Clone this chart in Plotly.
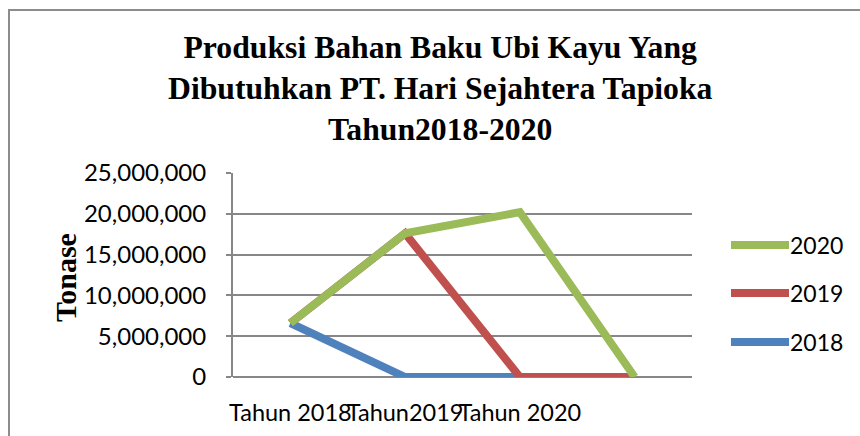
import plotly.graph_objects as go

W, H = 860, 436

categories = ["Tahun 2018", "Tahun2019", "Tahun 2020", ""]
series_names = ["2018", "2019", "2020"]
values_2018 = [6600000, 0, 0, 0]
values_2019 = [6600000, 17600000, 0, 0]
values_2020 = [6600000, 17600000, 20200000, 0]
series_values = [values_2018, values_2019, values_2020]
series_colors = ["#4F81BD", "#C0504D", "#9BBB59"]
y_ticks = [0, 5000000, 10000000, 15000000, 20000000, 25000000]

title_text = "Produksi Bahan Baku Ubi Kayu Yang<br>Dibutuhkan PT. Hari Sejahtera Tapioka<br>Tahun2018-2020"
y_title = "Tonase"

def px(x):
    return x / W

def py(y):
    return 1 - y / H

xidx = list(range(len(categories)))

fig = go.Figure()
for name, vals, col in zip(series_names, series_values, series_colors):
    fig.add_trace(go.Scatter(
        x=xidx, y=vals, mode="lines", name=name,
        line=dict(color=col, width=8),
        showlegend=False,
    ))

grid = "#878787"
fig.update_layout(
    width=W, height=H,
    margin=dict(l=0, r=0, t=0, b=0, autoexpand=False),
    paper_bgcolor="white", plot_bgcolor="white",
    font=dict(family="Lato", size=22, color="#000"),
    xaxis=dict(
        domain=[px(233), px(692)],
        range=[-0.5, len(categories) - 0.5],
        tickvals=xidx, ticktext=categories,
        showgrid=False, zeroline=False,
        showline=False, ticks="",
        tickangle=0, automargin=False,
        ticklabelstandoff=19,
        tickfont=dict(family="Lato", size=23.5, color="#000"),
    ),
    yaxis=dict(
        domain=[py(377), py(173)],
        range=[0, 25000000],
        tickvals=y_ticks,
        tickformat=",d",
        automargin=False,
        showgrid=True, gridcolor=grid, gridwidth=2,
        zeroline=True, zerolinecolor=grid, zerolinewidth=2,
        showline=True, linecolor=grid, linewidth=2,
        ticks="outside", ticklen=5, tickcolor=grid, tickwidth=2,
        ticklabelstandoff=15,
        tickfont=dict(family="Lato", size=24, color="#000"),
    ),
)

# chart title
fig.add_annotation(
    text="<b>" + title_text + "</b>", xref="paper", yref="paper",
    x=px(440), y=py(88), xanchor="center", yanchor="middle",
    showarrow=False,
    font=dict(family="Liberation Serif", size=31.7, color="#000"),
)

# y axis title
fig.add_annotation(
    text="<b>" + y_title + "</b>", xref="paper", yref="paper",
    x=px(65), y=py(278), xanchor="center", yanchor="middle",
    showarrow=False, textangle=-90,
    font=dict(family="Liberation Serif", size=30, color="#000"),
)

# chart border (extends past the right/bottom edge)
fig.add_shape(type="rect", xref="paper", yref="paper",
              x0=px(9), y0=-0.1, x1=1.1, y1=py(10),
              line=dict(color="#8C8C8C", width=2), layer="below")

# legend (reversed order: 2020, 2019, 2018)
legend_y = [342, 293, 245]
for name, col, ly in zip(series_names, series_colors, legend_y):
    fig.add_shape(type="line", xref="paper", yref="paper",
                  x0=px(731), x1=px(789), y0=py(ly), y1=py(ly),
                  line=dict(color=col, width=8))
    fig.add_annotation(text=name, xref="paper", yref="paper",
                       x=px(788), y=py(ly), xanchor="left", yanchor="middle",
                       showarrow=False,
                       font=dict(family="Lato", size=23, color="#000"))

fig.write_html("out.html")
